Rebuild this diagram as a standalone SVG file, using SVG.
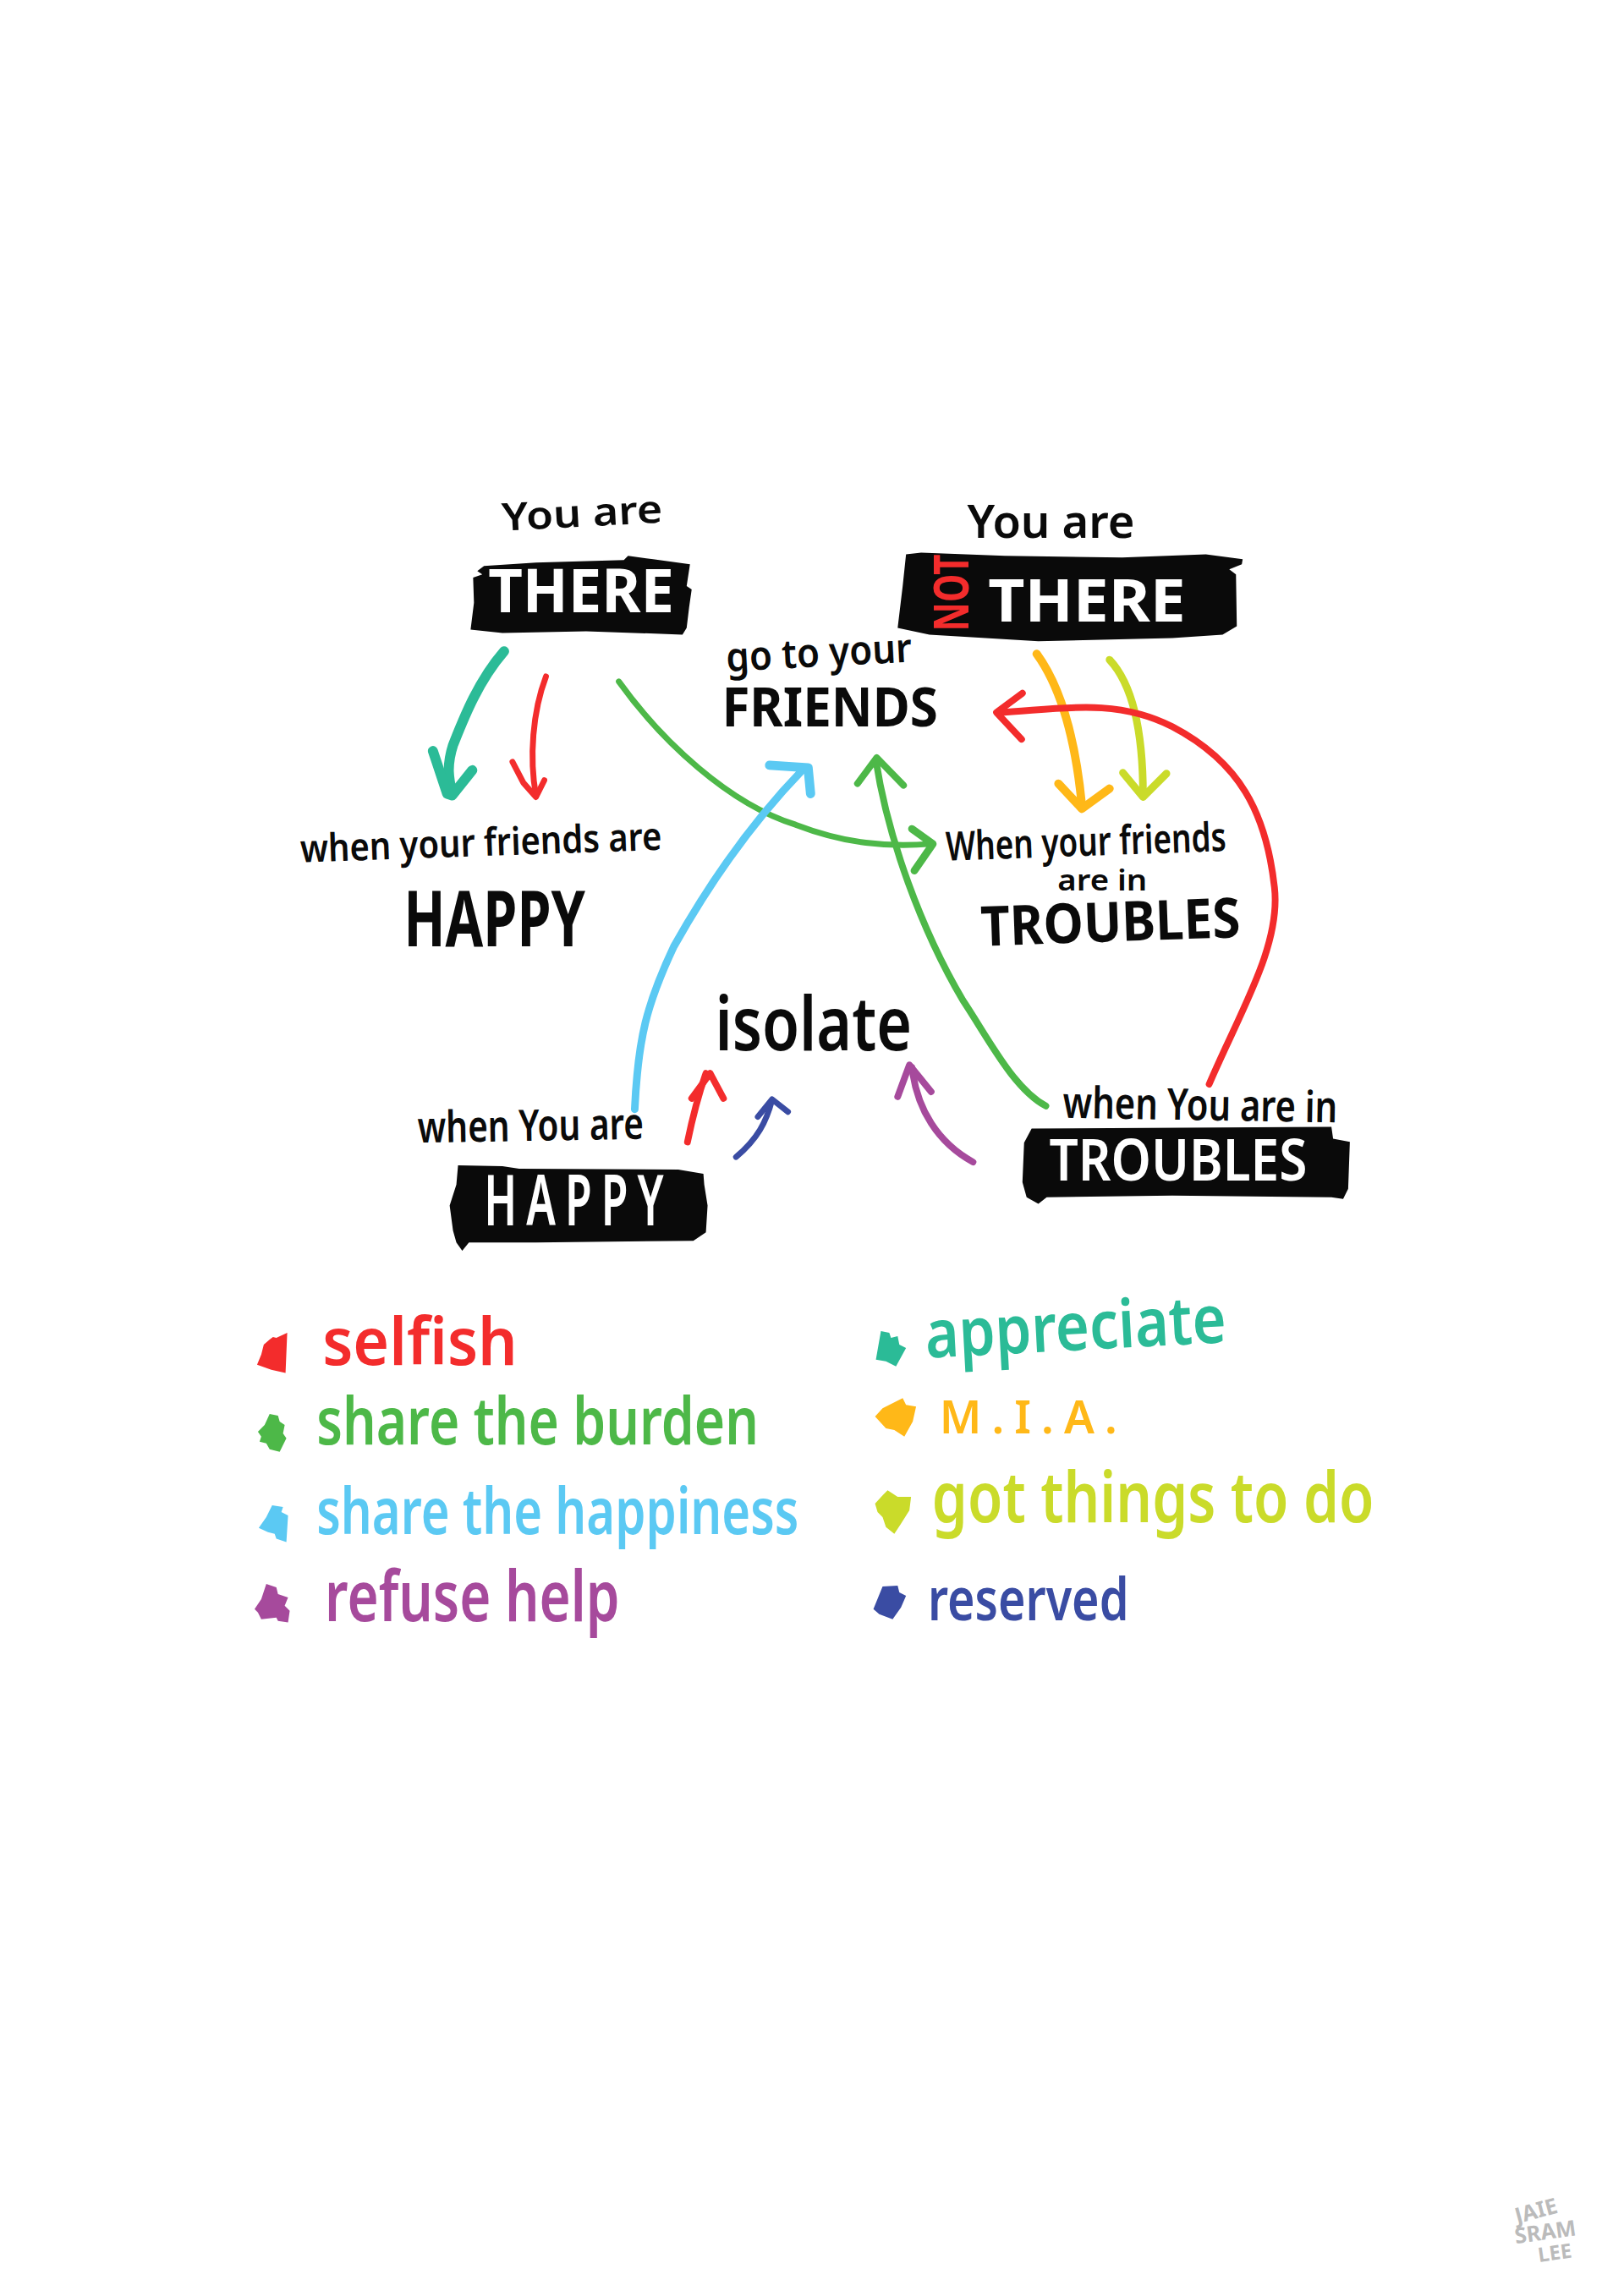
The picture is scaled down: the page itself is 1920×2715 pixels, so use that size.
<svg xmlns="http://www.w3.org/2000/svg" width="1920" height="2715" viewBox="0 0 1920 2715">
<style>
text{font-family:"Noto Sans","Liberation Sans",sans-serif;font-weight:600;fill:#0a0a0a}
.b{font-weight:700}
.w{fill:#fff}
.box{fill:#0a0a0a}
#connectors path,#connectors polyline{fill:none;stroke-linecap:round;stroke-linejoin:round}
.red{fill:#f32c2c}.green{fill:#4db848}.sky{fill:#5bc9f3}.purple{fill:#a64a9c}.teal{fill:#2bbb97}.orange{fill:#ffb818}.lime{fill:#cadb2a}.navy{fill:#3a4ca3}
.sig{fill:#bbb;font-weight:700}
</style>
<rect width="1920" height="2715" fill="#fff"/>
<g transform="scale(.99)">
<g id="connectors">
<g stroke="#2bbb97" stroke-width="12"><path d="M602 778C570 815 553 860 541 890C533 915 536 930 540 948"/><polyline points="517,897 534,948 540,950 564,920"/></g>
<g stroke="#f32c2c" stroke-width="7"><path d="M652 808C636 850 632 905 640 950"/><polyline points="612,910 625,935 640,952 650,932"/></g>
<g stroke="#4db848" stroke-width="7"><path d="M739 814C790 885 870 960 950 985C1010 1008 1060 1012 1112 1008"/><polyline stroke-width="9" points="1089,990 1114,1008 1092,1040"/></g>
<g stroke="#ffb818" stroke-width="10"><path d="M1238 781C1270 825 1285 890 1292 962"/><polyline points="1264,936 1292,966 1325,942"/></g>
<g stroke="#cadb2a" stroke-width="9"><path d="M1325 788C1355 820 1365 880 1365 950"/><polyline points="1341,923 1365,952 1393,924"/></g>
<g stroke="#f32c2c" stroke-width="8"><path d="M1444 1295C1480 1210 1530 1130 1522 1060C1512 970 1480 910 1400 868C1330 832 1260 848 1192 851"/><polyline points="1221,828 1190,851 1220,883"/></g>
<g stroke="#4db848" stroke-width="8"><path d="M1249 1321C1210 1300 1180 1240 1150 1195C1100 1110 1060 1000 1046 908"/><polyline points="1024,936 1047,905 1079,938"/></g>
<g stroke="#5bc9f3" stroke-width="9"><path d="M758 1325C762 1240 772 1200 805 1130C850 1050 900 980 958 920"/><polyline stroke-width="11" points="919,914 965,917 968,948"/></g>
<g stroke="#f32c2c" stroke-width="8"><path d="M821 1364C828 1330 835 1305 843 1282"/><polyline points="826,1312 848,1282 864,1312"/></g>
<g stroke="#3a4ca3" stroke-width="7"><path d="M879 1382C905 1360 915 1340 922 1314"/><polyline points="905,1334 922,1313 941,1328"/></g>
<g stroke="#a64a9c" stroke-width="8"><path d="M1162 1388C1120 1365 1095 1325 1089 1275"/><polyline points="1072,1310 1086,1272 1112,1304"/></g>
</g>
<g id="you-are-there">
<text x="600" y="634" textLength="192" lengthAdjust="spacingAndGlyphs" font-size="46" transform="rotate(-3 600 634)">You are</text>
<path class="box" d="M578 676L570 682L576 686L565 690L566 720L562 752L600 756L700 754L815 758L820 750L823 725L826 704L820 700L824 674L780 668L750 664L745 669L640 672Z"/>
<text class="w b" x="583" y="731" textLength="222" lengthAdjust="spacingAndGlyphs" font-size="72">THERE</text>
</g>
<g id="you-are-not-there">
<text x="1155" y="642" textLength="200" lengthAdjust="spacingAndGlyphs" font-size="54">You are</text>
<path class="box" d="M1082 662L1100 660L1200 664L1340 666L1440 662L1484 668L1483 674L1468 680L1476 686L1477 748L1460 758L1400 762L1240 766L1110 758L1072 750L1078 700Z"/>
<text class="red b" font-size="58" textLength="92" lengthAdjust="spacingAndGlyphs" transform="translate(1157 754) rotate(-90)">NOT</text>
<text class="w b" x="1180" y="742" textLength="236" lengthAdjust="spacingAndGlyphs" font-size="70">THERE</text>
</g>
<g id="go-to-friends">
<text x="868" y="802" textLength="222" lengthAdjust="spacingAndGlyphs" font-size="48" transform="rotate(-3 868 802)">go to your</text>
<text class="b" x="862" y="868" textLength="258" lengthAdjust="spacingAndGlyphs" font-size="66">FRIENDS</text>
</g>
<g id="friends-happy">
<text x="359" y="1030" textLength="432" lengthAdjust="spacingAndGlyphs" font-size="46" transform="rotate(-2 359 1030)">when your friends are</text>
<text class="b" x="482" y="1130" textLength="217" lengthAdjust="spacingAndGlyphs" font-size="92">HAPPY</text>
</g>
<g id="friends-troubles">
<text x="1130" y="1028" textLength="335" lengthAdjust="spacingAndGlyphs" font-size="48" transform="rotate(-2 1130 1028)">When your friends</text>
<text x="1263" y="1064" textLength="107" lengthAdjust="spacingAndGlyphs" font-size="34">are in</text>
<text class="b" x="1172" y="1130" textLength="310" lengthAdjust="spacingAndGlyphs" font-size="66" transform="rotate(-2 1172 1130)">TROUBLES</text>
</g>
<g id="isolate">
<text x="854" y="1255" textLength="235" lengthAdjust="spacingAndGlyphs" font-size="90">isolate</text>
</g>
<g id="you-happy">
<text x="499" y="1365" textLength="270" lengthAdjust="spacingAndGlyphs" font-size="52" transform="rotate(-1 499 1365)">when You are</text>
<path class="box" d="M547 1392L600 1393L620 1396L810 1397L840 1402L841 1415L845 1440L843 1472L828 1482L640 1484L560 1484L552 1494L545 1484L541 1470L537 1440L545 1415Z"/>
<text class="w" font-size="84" letter-spacing="18" transform="translate(578 1464) scale(.62 1)">HAPPY</text>
</g>
<g id="you-troubles">
<text x="1269" y="1335" textLength="328" lengthAdjust="spacingAndGlyphs" font-size="52" transform="rotate(1 1269 1335)">when You are in</text>
<path class="box" d="M1232 1348L1590 1346L1592 1360L1612 1364L1610 1420L1604 1432L1590 1430L1400 1428L1250 1430L1240 1438L1226 1430L1221 1412L1223 1365Z"/>
<text class="w" x="1253" y="1410" textLength="308" lengthAdjust="spacingAndGlyphs" font-size="70">TROUBLES</text>
</g>
<g id="legend-selfish">
<path class="red" d="M322 1600L326 1597L330 1598L343 1592L341 1640L324 1636L307 1630L312 1618L315 1606Z"/>
<text class="red" x="385" y="1630" textLength="233" lengthAdjust="spacingAndGlyphs" font-size="78">selfish</text>
</g>
<g id="legend-burden">
<path class="green" d="M322 1689L332 1691L334 1698L340 1702L338 1712L342 1718L334 1734L322 1731L318 1724L310 1722L312 1716L308 1710L316 1702Z"/>
<text class="green" x="378" y="1725" textLength="528" lengthAdjust="spacingAndGlyphs" font-size="78">share the burden</text>
</g>
<g id="legend-happiness">
<path class="sky" d="M325 1798L338 1800L336 1806L344 1810L342 1842L330 1838L328 1832L320 1830L309 1825L318 1812Z"/>
<text class="sky" x="378" y="1832" textLength="576" lengthAdjust="spacingAndGlyphs" font-size="76">share the happiness</text>
</g>
<g id="legend-refuse">
<path class="purple" d="M318 1892L330 1896L332 1904L344 1908L340 1918L346 1924L344 1938L332 1936L330 1932L312 1934L308 1926L304 1922L312 1910Z"/>
<text class="purple" x="388" y="1936" textLength="352" lengthAdjust="spacingAndGlyphs" font-size="84">refuse help</text>
</g>
<g id="legend-appreciate">
<path class="teal" d="M1052 1590L1062 1592L1064 1598L1072 1596L1074 1606L1082 1610L1070 1632L1058 1626L1046 1624Z"/>
<text class="teal" x="1106" y="1622" textLength="360" lengthAdjust="spacingAndGlyphs" font-size="80" transform="rotate(-3 1106 1622)">appreciate</text>
</g>
<g id="legend-mia">
<path class="orange" d="M1045 1692L1054 1682L1070 1674L1078 1670L1082 1678L1094 1680L1090 1698L1080 1716L1068 1708L1058 1706Z"/>
<text class="orange" x="1122" y="1712" textLength="212" font-size="54">M.I.A.</text>
</g>
<g id="legend-got">
<path class="lime" d="M1045 1796L1054 1786L1060 1780L1072 1788L1088 1788L1086 1804L1076 1820L1068 1832L1058 1824L1054 1812L1048 1806Z"/>
<text class="lime" x="1113" y="1818" textLength="528" lengthAdjust="spacingAndGlyphs" font-size="84">got things to do</text>
</g>
<g id="legend-reserved">
<path class="navy" d="M1054 1895L1072 1894L1074 1902L1082 1906L1076 1920L1066 1934L1050 1928L1043 1922Z"/>
<text class="navy" x="1108" y="1935" textLength="240" lengthAdjust="spacingAndGlyphs" font-size="72">reserved</text>
</g>
<g id="signature">
<text class="sig" x="1812" y="2656" font-size="26" transform="rotate(-15 1812 2656)">JAIE</text>
<text class="sig" x="1810" y="2680" font-size="26" transform="rotate(-8 1810 2680)">SRAM</text>
<text class="sig" x="1838" y="2702" font-size="24" transform="rotate(-8 1838 2702)">LEE</text>
</g>
</g>
</svg>
